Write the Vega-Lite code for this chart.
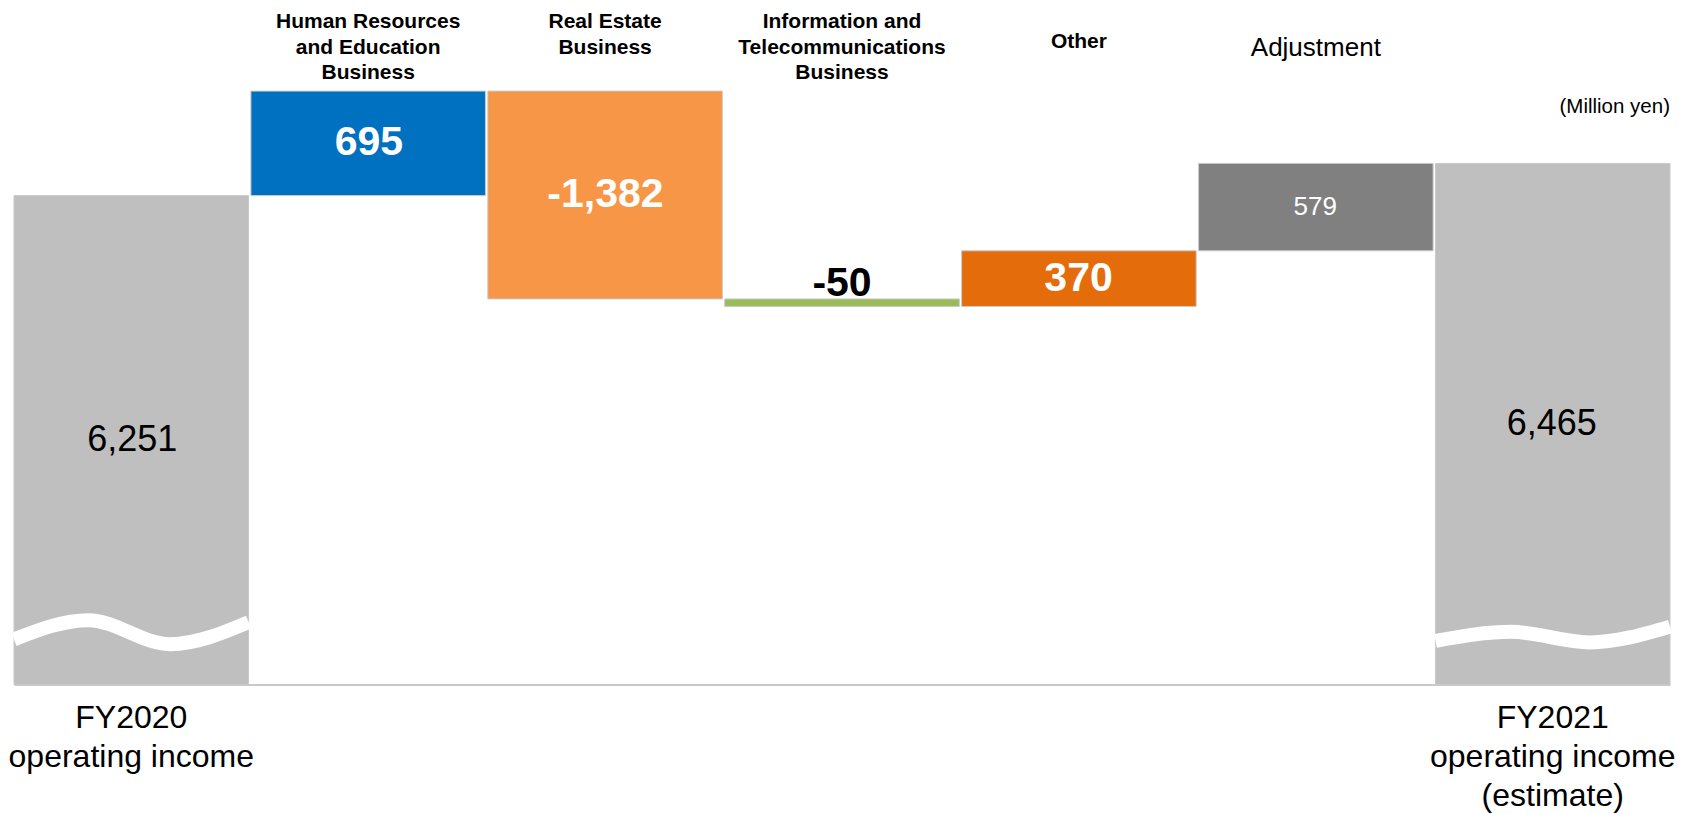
{
  "$schema": "https://vega.github.io/schema/vega-lite/v6.json",
  "width": 1656,
  "height": 594,
  "autosize": {"type": "none"},
  "padding": {"left": 14, "top": 90.5, "right": 19, "bottom": 129.5},
  "config": {
    "view": {"stroke": null},
    "font": "Liberation Sans",
    "text": {"font": "Liberation Sans"}
  },
  "datasets": {
    "steps": [
      {"item": "FY2020|operating income", "start": 0, "end": 6251, "label": "6,251"},
      {"item": "Human Resources|and Education|Business", "start": 6251, "end": 6946, "label": "695"},
      {"item": "Real Estate|Business", "start": 6946, "end": 5564, "label": "-1,382"},
      {"item": "Information and|Telecommunications|Business", "start": 5564, "end": 5514, "label": "-50"},
      {"item": "Other", "start": 5514, "end": 5884, "label": "370"},
      {"item": "Adjustment", "start": 5884, "end": 6465, "label": "579"},
      {"item": "FY2021|operating income|(estimate)", "start": 0, "end": 6465, "label": "6,465"}
    ],
    "wave": [
      {"seg": "left", "x": 0, "y": 3300},
      {"seg": "left", "x": 0.313, "y": 3428},
      {"seg": "left", "x": 0.659, "y": 3268},
      {"seg": "left", "x": 0.992, "y": 3415},
      {"seg": "right", "x": 6.009, "y": 3290},
      {"seg": "right", "x": 6.33, "y": 3350},
      {"seg": "right", "x": 6.66, "y": 3280},
      {"seg": "right", "x": 7, "y": 3385}
    ]
  },
  "layer": [
    {
      "data": {"name": "steps"},
      "mark": {"type": "bar", "stroke": "#c9c9c9", "strokeWidth": 1},
      "encoding": {
        "x": {
          "field": "item", "type": "nominal", "sort": null,
          "scale": {"domain": ["FY2020|operating income", "Human Resources|and Education|Business", "Real Estate|Business", "Information and|Telecommunications|Business", "Other", "Adjustment", "FY2021|operating income|(estimate)"], "paddingInner": 0.01, "paddingOuter": 0},
          "axis": {
            "orient": "bottom", "title": null, "ticks": false, "domain": true,
            "domainColor": "#c8c8c8", "domainWidth": 2, "grid": false,
            "labelExpr": "indexof(datum.value, 'FY') == 0 ? split(datum.value, '|') : ''",
            "labelFontSize": 32, "labelFont": "Liberation Sans", "labelColor": "#000000",
            "labelBaseline": "top", "labelPadding": 18, "labelLineHeight": 39,
            "labelAngle": 0, "labelLimit": 600, "labelOverlap": false, "labelFlush": false, "labelBound": false
          }
        },
        "y": {"field": "end", "type": "quantitative", "scale": {"domain": [3000, 6950], "nice": false, "zero": false, "clamp": true}, "axis": null},
        "y2": {"field": "start"},
        "color": {
          "field": "item", "type": "nominal",
          "scale": {"domain": ["FY2020|operating income", "Human Resources|and Education|Business", "Real Estate|Business", "Information and|Telecommunications|Business", "Other", "Adjustment", "FY2021|operating income|(estimate)"], "range": ["#bfbfbf", "#0070c0", "#f79646", "#9bbb59", "#e46c0a", "#808080", "#bfbfbf"]},
          "legend": null
        }
      }
    },
    {
      "data": {"name": "steps"},
      "mark": {"type": "bar", "opacity": 0},
      "encoding": {
        "x": {
          "field": "item", "type": "nominal", "sort": null,
          "scale": {"domain": ["FY2020|operating income", "Human Resources|and Education|Business", "Real Estate|Business", "Information and|Telecommunications|Business", "Other", "Adjustment", "FY2021|operating income|(estimate)"], "paddingInner": 0.01, "paddingOuter": 0},
          "axis": {
            "orient": "top", "title": null, "ticks": false, "domain": false, "grid": false,
            "labelExpr": "indexof(datum.value, 'FY') == 0 ? '' : split(datum.value, '|')",
            "labelFont": "Liberation Sans", "labelColor": "#000000",
            "labelFontSize": {"condition": {"test": "datum.value == 'Adjustment'", "value": 26}, "value": 21},
            "labelFontWeight": {"condition": {"test": "datum.value == 'Adjustment'", "value": "normal"}, "value": "bold"},
            "labelPadding": {"condition": [{"test": "datum.value == 'Other'", "value": 60}, {"test": "datum.value == 'Adjustment'", "value": 56}], "value": 80},
            "labelBaseline": "top", "labelLineHeight": 25.5,
            "labelAngle": 0, "labelLimit": 600, "labelOverlap": false, "labelFlush": false, "labelBound": false
          }
        },
        "y": {"field": "end", "type": "quantitative", "scale": {"domain": [3000, 6950], "nice": false, "zero": false, "clamp": true}, "axis": null},
        "y2": {"field": "start"}
      }
    },
    {
      "data": {"name": "steps"},
      "transform": [
        {"filter": {"field": "item", "oneOf": ["Human Resources|and Education|Business", "Real Estate|Business", "Other"]}},
        {"calculate": "(max(datum.start, 3000) + datum.end) / 2", "as": "mid"}
      ],
      "mark": {"type": "text", "color": "#ffffff", "fontSize": 41, "fontWeight": "bold", "baseline": "middle", "align": "center"},
      "encoding": {
        "x": {"field": "item", "type": "nominal", "sort": null, "scale": {"domain": ["FY2020|operating income", "Human Resources|and Education|Business", "Real Estate|Business", "Information and|Telecommunications|Business", "Other", "Adjustment", "FY2021|operating income|(estimate)"], "paddingInner": 0.01, "paddingOuter": 0}, "axis": null},
        "y": {"field": "mid", "type": "quantitative", "scale": {"domain": [3000, 6950], "nice": false, "zero": false, "clamp": true}, "axis": null},
        "text": {"field": "label"}
      }
    },
    {
      "data": {"name": "steps"},
      "transform": [
        {"filter": {"field": "item", "oneOf": ["Information and|Telecommunications|Business"]}}
      ],
      "mark": {"type": "text", "color": "#000000", "fontSize": 41, "fontWeight": "bold", "baseline": "alphabetic", "align": "center", "dy": -3},
      "encoding": {
        "x": {"field": "item", "type": "nominal", "sort": null, "scale": {"domain": ["FY2020|operating income", "Human Resources|and Education|Business", "Real Estate|Business", "Information and|Telecommunications|Business", "Other", "Adjustment", "FY2021|operating income|(estimate)"], "paddingInner": 0.01, "paddingOuter": 0}, "axis": null},
        "y": {"field": "start", "type": "quantitative", "scale": {"domain": [3000, 6950], "nice": false, "zero": false, "clamp": true}, "axis": null},
        "text": {"field": "label"}
      }
    },
    {
      "data": {"name": "steps"},
      "transform": [
        {"filter": {"field": "item", "oneOf": ["FY2020|operating income", "FY2021|operating income|(estimate)"]}},
        {"calculate": "(max(datum.start, 3000) + datum.end) / 2", "as": "mid"}
      ],
      "mark": {"type": "text", "color": "#000000", "fontSize": 36, "baseline": "middle", "align": "center"},
      "encoding": {
        "x": {"field": "item", "type": "nominal", "sort": null, "scale": {"domain": ["FY2020|operating income", "Human Resources|and Education|Business", "Real Estate|Business", "Information and|Telecommunications|Business", "Other", "Adjustment", "FY2021|operating income|(estimate)"], "paddingInner": 0.01, "paddingOuter": 0}, "axis": null},
        "y": {"field": "mid", "type": "quantitative", "scale": {"domain": [3000, 6950], "nice": false, "zero": false, "clamp": true}, "axis": null},
        "text": {"field": "label"}
      }
    },
    {
      "data": {"name": "steps"},
      "transform": [
        {"filter": {"field": "item", "oneOf": ["Adjustment"]}},
        {"calculate": "(max(datum.start, 3000) + datum.end) / 2", "as": "mid"}
      ],
      "mark": {"type": "text", "color": "#ffffff", "fontSize": 26, "baseline": "middle", "align": "center"},
      "encoding": {
        "x": {"field": "item", "type": "nominal", "sort": null, "scale": {"domain": ["FY2020|operating income", "Human Resources|and Education|Business", "Real Estate|Business", "Information and|Telecommunications|Business", "Other", "Adjustment", "FY2021|operating income|(estimate)"], "paddingInner": 0.01, "paddingOuter": 0}, "axis": null},
        "y": {"field": "mid", "type": "quantitative", "scale": {"domain": [3000, 6950], "nice": false, "zero": false, "clamp": true}, "axis": null},
        "text": {"field": "label"}
      }
    },
    {
      "data": {"name": "wave"},
      "mark": {"type": "line", "stroke": "#ffffff", "strokeWidth": 14, "strokeCap": "butt", "interpolate": "monotone"},
      "encoding": {
        "x": {"field": "x", "type": "quantitative", "scale": {"domain": [0, 7], "nice": false, "zero": false}, "axis": null},
        "y": {"field": "y", "type": "quantitative", "scale": {"domain": [3000, 6950], "nice": false, "zero": false, "clamp": true}, "axis": null},
        "detail": {"field": "seg"}
      }
    },
    {
      "data": {"values": [{"note": "(Million yen)"}]},
      "mark": {"type": "text", "color": "#000000", "fontSize": 20.5, "baseline": "middle", "align": "right"},
      "encoding": {
        "x": {"datum": 7, "type": "quantitative", "scale": {"domain": [0, 7], "nice": false, "zero": false}, "axis": null},
        "y": {"datum": 6842, "type": "quantitative", "scale": {"domain": [3000, 6950], "nice": false, "zero": false, "clamp": true}, "axis": null},
        "text": {"field": "note"}
      }
    }
  ],
  "resolve": {"scale": {"x": "independent"}, "axis": {"x": "independent"}}
}
